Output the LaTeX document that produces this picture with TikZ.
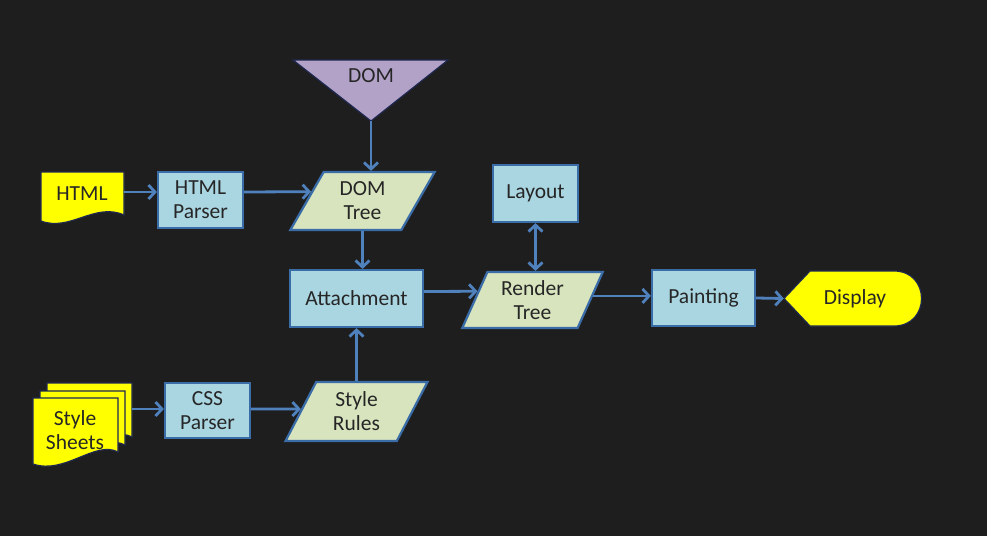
\documentclass[tikz,border=0pt]{standalone}
\usepackage{fontspec}
\setmainfont{Carlito}
\usetikzlibrary{shapes.geometric,arrows.meta,calc}
\definecolor{bg}{RGB}{30,30,30}
\definecolor{boxfill}{RGB}{170,214,226}
\definecolor{boxline}{RGB}{58,108,168}
\definecolor{parafill}{RGB}{215,228,189}
\definecolor{domfill}{RGB}{179,162,199}
\definecolor{docfill}{RGB}{255,255,0}
\definecolor{docline}{RGB}{30,40,80}
\definecolor{arrowc}{RGB}{79,129,189}
\definecolor{txt}{RGB}{38,38,38}
\tikzset{
  box/.style={rectangle, draw=boxline, line width=2.2pt, fill=boxfill, text=txt, align=center, inner sep=0pt},
  para/.style={trapezium, trapezium stretches=true, draw=boxline, line width=2.2pt, fill=parafill, text=txt, align=center, inner sep=0pt},
  doc/.style={draw=docline, line width=1.2pt, fill=docfill},
  lbl/.style={text=txt, align=center, inner sep=0pt},
  arr/.style={draw=arrowc, line width=2.8pt, -{Straight Barb[length=6.5pt,width=14pt]}},
  arrboth/.style={draw=arrowc, line width=2.8pt, {Straight Barb[length=6.5pt,width=14pt]}-{Straight Barb[length=6.5pt,width=14pt]}}
}
\begin{document}
\begin{tikzpicture}[x=1pt,y=-1pt,font=\fontsize{21.5}{24}\selectfont]
\fill[bg] (0,0) rectangle (987,536);
\useasboundingbox (0,0) rectangle (987,536);

% DOM triangle
\filldraw[fill=domfill, draw=docline, line width=1.2pt] (293,60) -- (448,60) -- (371,121) -- cycle;
\node[lbl] (dom) at (371,76) {DOM};
\coordinate (domtip) at (371,121);

% HTML document
\filldraw[doc] (41,172) -- (124,172) -- (124,215) .. controls (95,202) and (70,232) .. (41,221) -- cycle;
\node[lbl] (html) at (82,194) {HTML};
\coordinate (htmlout) at (124,192);

% Style sheets (multi document)
\foreach \dx/\dy in {14/-15, 7/-7, 0/0} {
  \filldraw[doc, shift={(\dx,\dy)}] (33,398) -- (118,398) -- (118,452) .. controls (95,440) and (65,475) .. (33,464) -- cycle;
}
\node[lbl] (sheets) at (75,430) {Style\\Sheets};
\coordinate (sheetsout) at (132,409);

% boxes
\node[box, minimum width=85pt, minimum height=56pt] (htmlparser) at (200.5,200) {HTML\\Parser};
\node[box, minimum width=85pt, minimum height=55pt] (cssparser) at (207.5,410.5) {CSS\\Parser};
\node[box, minimum width=133pt, minimum height=57pt] (attachment) at (356.5,298.5) {Attachment};
\node[box, minimum width=85pt, minimum height=57pt] (layout) at (535.5,193.5) {Layout};
\node[box, minimum width=103pt, minimum height=56pt] (painting) at (703.5,298) {Painting};

% parallelograms
\node[para, trapezium left angle=62.7, trapezium right angle=117.3, minimum width=145pt, minimum height=58pt] (domtree) at (362.5,201) {DOM\\Tree};
\node[para, trapezium left angle=65.9, trapezium right angle=114.1, minimum width=141pt, minimum height=56pt] (rendertree) at (532.5,300) {Render\\Tree};
\node[para, trapezium left angle=65.4, trapezium right angle=114.6, minimum width=143pt, minimum height=59pt] (stylerules) at (356.5,411.5) {Style\\Rules};

% Display
\filldraw[doc] (784,298.5) -- (810,271) -- (894,271) .. controls (930.7,271) and (930.7,326) .. (894,326) -- (810,326) -- cycle;
\node[lbl, minimum width=137pt, minimum height=55pt] (display) at (852.5,298.5) {\hspace*{5pt}Display};

% connectors
\draw[arr] (htmlout) -- (htmlout -| htmlparser.west);
\draw[arr] (htmlparser.east |- htmlout) -- ($(domtree.top left corner)!0.345!(domtree.bottom left corner)$);
\draw[arr] (domtip) -- (domtip |- domtree.north);
\draw[arr] (domtree.south) -- (domtree.south |- attachment.north);
\draw[arr] (sheetsout) -- (sheetsout -| cssparser.west);
\draw[arr] (cssparser.east |- sheetsout) -- ($(stylerules.top left corner)!0.46!(stylerules.bottom left corner)$);
\draw[arr] (stylerules.north) -- (stylerules.north |- attachment.south);
\coordinate (attout) at ([yshift=7pt]attachment.east);
\draw[arr] (attout) -- ($(rendertree.top left corner)!0.35!(rendertree.bottom left corner)$);
\draw[arrboth] (layout.south) -- (layout.south |- rendertree.north);
\coordinate (rtout) at ($(rendertree.top right corner)!0.43!(rendertree.bottom right corner)$);
\draw[arr] (rtout) -- (rtout -| painting.west);
\draw[arr] (painting.east) -- (display.west);
\end{tikzpicture}
\end{document}
